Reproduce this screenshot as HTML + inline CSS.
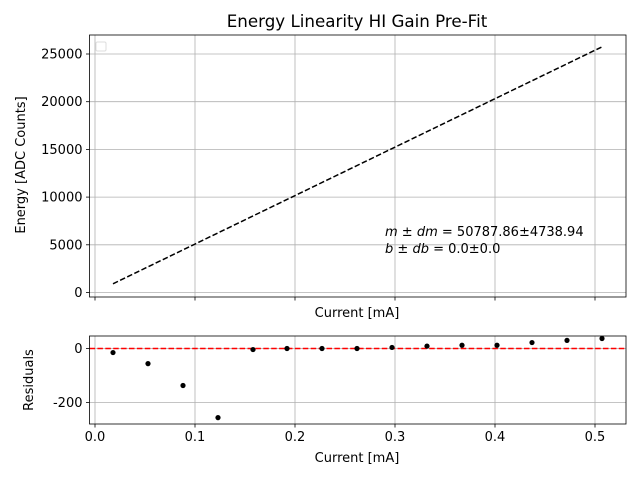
<!DOCTYPE html>
<html><head><meta charset="utf-8"><style>
body{margin:0;background:#fff}
svg{display:block;font-family:"DejaVu Sans","Liberation Sans",sans-serif}
</style></head><body>
<svg id="c" width="640" height="480" viewBox="0 0 640 480" xmlns="http://www.w3.org/2000/svg">
<rect width="640" height="480" fill="#fff"/>
<text x="357" y="27" font-size="16.7" text-anchor="middle">Energy Linearity HI Gain Pre-Fit</text>
<g id="top"></g>
<g id="bot"></g>
</svg>
<script>
const currents=[0.018,0.053,0.088,0.123,0.158,0.192,0.227,0.262,0.297,0.332,0.367,0.402,0.437,0.472,0.507];
const residuals=[-15,-56,-137,-256,-4,0,0,0,4,9,12,12,22,30,37];
const slope=50787.86;
const intercept=0.0;
const topYTicks=[0,5000,10000,15000,20000,25000];
const xTicks=[0,0.1,0.2,0.3,0.4,0.5];
const xTickLabels=["0.0","0.1","0.2","0.3","0.4","0.5"];
const resYTicks=[0,-200];
const NS="http://www.w3.org/2000/svg";
const FS=13;
function mk(p,t,a,txt){const e=document.createElementNS(NS,t);for(const k in a)e.setAttribute(k,a[k]);if(txt!==undefined)e.textContent=txt;p.appendChild(e);return e;}
const L=89.5,R=626,xmin=-0.0055,xmax=0.531;
const X=v=>L+(v-xmin)/(xmax-xmin)*(R-L);
const T=document.getElementById('top');const tT=35,tB=297;
const Y1=v=>292.5-v/5000*47.7;
for(const t of xTicks){let g=mk(T,'line',{x1:X(t),x2:X(t),y1:tT,y2:tB,stroke:'#b0b0b0','stroke-width':0.8});mk(T,'line',{x1:X(t),x2:X(t),y1:tB,y2:tB+3.5,stroke:'#000','stroke-width':0.8});}
for(const t of topYTicks){let g=mk(T,'line',{x1:L,x2:R,y1:Y1(t),y2:Y1(t),stroke:'#b0b0b0','stroke-width':0.8});mk(T,'line',{x1:L-3.5,x2:L,y1:Y1(t),y2:Y1(t),stroke:'#000','stroke-width':0.8});let l=mk(T,'text',{x:L-7,y:Y1(t)+4.5,'font-size':FS,'text-anchor':'end'},String(t));}
const x0=currents[0],x1=currents[currents.length-1];
let fl=mk(T,'line',{x1:X(x0),y1:Y1(slope*x0+intercept),x2:X(x1),y2:Y1(slope*x1+intercept),stroke:'#000','stroke-width':1.5,'stroke-dasharray':'5.5,2.4'});

mk(T,'rect',{x:L,y:tT,width:R-L,height:tB-tT,fill:'none',stroke:'#000','stroke-width':0.8});
let lg=mk(T,'rect',{x:96,y:42,width:10,height:9,rx:1.5,fill:'none',stroke:'#ddd','stroke-width':1});

let a1=mk(T,'text',{x:385,y:236,'font-size':FS});a1.innerHTML='<tspan font-style="italic">m</tspan> ± <tspan font-style="italic">dm</tspan> = 50787.86±4738.94';

let a2=mk(T,'text',{x:385,y:253,'font-size':FS});a2.innerHTML='<tspan font-style="italic">b</tspan> ± <tspan font-style="italic">db</tspan> = 0.0±0.0';

let xl=mk(T,'text',{x:357,y:317,'font-size':FS,'text-anchor':'middle'},'Current [mA]');

let yl=mk(T,'text',{x:0,y:0,'font-size':FS,'text-anchor':'middle',transform:'translate(25,165) rotate(-90)'},'Energy [ADC Counts]');

const B=document.getElementById('bot');const bT=336,bB=424;
const Y2=v=>348.5-v*0.27;
for(const t of xTicks){let g=mk(B,'line',{x1:X(t),x2:X(t),y1:bT,y2:bB,stroke:'#b0b0b0','stroke-width':0.8});mk(B,'line',{x1:X(t),x2:X(t),y1:bB,y2:bB+3.5,stroke:'#000','stroke-width':0.8});}
xTicks.forEach((t,i)=>{let l=mk(B,'text',{x:X(t),y:bB+17,'font-size':FS,'text-anchor':'middle'},xTickLabels[i]);});
for(const t of resYTicks){let g=mk(B,'line',{x1:L,x2:R,y1:Y2(t),y2:Y2(t),stroke:'#b0b0b0','stroke-width':0.8});mk(B,'line',{x1:L-3.5,x2:L,y1:Y2(t),y2:Y2(t),stroke:'#000','stroke-width':0.8});let l=mk(B,'text',{x:L-7,y:Y2(t)+4.5,'font-size':FS,'text-anchor':'end'},String(t));}
let zl=mk(B,'line',{x1:L,x2:R,y1:Y2(0),y2:Y2(0),stroke:'#f00','stroke-width':1.5,'stroke-dasharray':'5.5,2.4'});

currents.forEach((c,i)=>{let p=mk(B,'circle',{cx:X(c),cy:Y2(residuals[i]),r:2.6,fill:'#000'});

});
mk(B,'rect',{x:L,y:bT,width:R-L,height:bB-bT,fill:'none',stroke:'#000','stroke-width':0.8});
let bx=mk(B,'text',{x:357,y:462,'font-size':FS,'text-anchor':'middle'},'Current [mA]');

let by=mk(B,'text',{x:0,y:0,'font-size':FS,'text-anchor':'middle',transform:'translate(33,380) rotate(-90)'},'Residuals');

</script>
</body></html>
